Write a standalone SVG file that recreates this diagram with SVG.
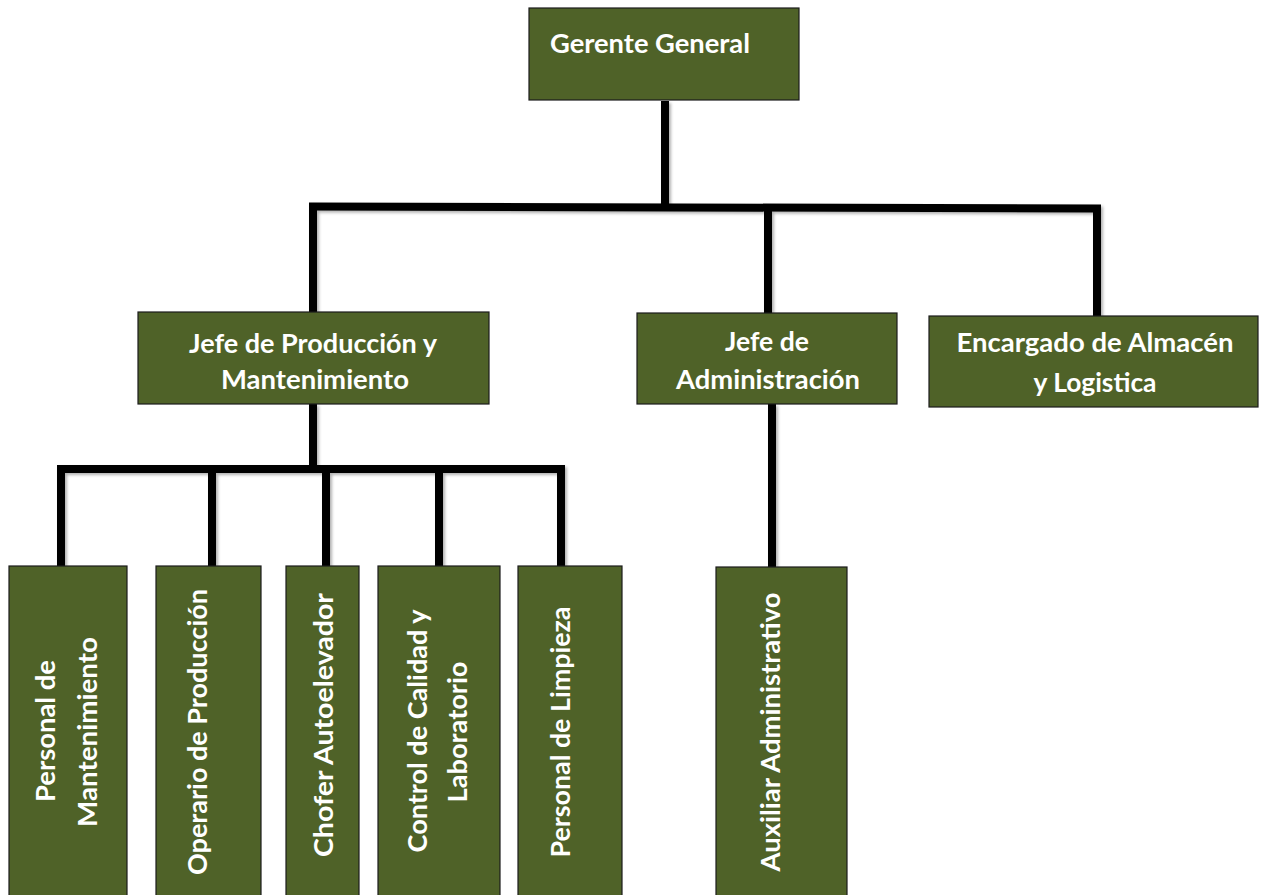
<svg xmlns="http://www.w3.org/2000/svg" width="1262" height="895" viewBox="0 0 1262 895">
  <defs>
    <filter id="shadow" x="-20%" y="-20%" width="140%" height="140%">
      <feDropShadow dx="2" dy="2" stdDeviation="1.5" flood-color="#000" flood-opacity="0.3"/>
    </filter>
  </defs>
  <style>
    .box { fill: #4f6228; stroke: #1c1c1c; stroke-width: 1.2; }
    .lbl { fill: #ffffff; font-family: "Lato", "Liberation Sans", sans-serif; font-weight: bold; font-size: 26px; }
    .mid { text-anchor: middle; }
    .conn { stroke: #000; stroke-width: 8; fill: none; stroke-linecap: butt; }
  </style>
  <rect width="1262" height="895" fill="#ffffff"/>

  <g id="connectors" filter="url(#shadow)">
    <line class="conn" x1="665" y1="101" x2="665" y2="207"/>
    <line class="conn" x1="309" y1="206.5" x2="1101" y2="208.5"/>
    <line class="conn" x1="313" y1="206" x2="313" y2="312"/>
    <line class="conn" x1="768" y1="208" x2="768" y2="313"/>
    <line class="conn" x1="1097" y1="208" x2="1097" y2="316"/>
    <line class="conn" x1="313" y1="404" x2="313" y2="469"/>
    <line class="conn" x1="57" y1="469" x2="565" y2="469"/>
    <line class="conn" x1="61" y1="466" x2="61" y2="566"/>
    <line class="conn" x1="212" y1="469" x2="212" y2="566"/>
    <line class="conn" x1="326" y1="469" x2="326" y2="566"/>
    <line class="conn" x1="439" y1="469" x2="439" y2="566"/>
    <line class="conn" x1="561" y1="466" x2="561" y2="566"/>
    <line class="conn" x1="772" y1="404" x2="772" y2="567"/>
  </g>

  <g id="gerente-general">
    <rect class="box" x="529" y="8" width="270" height="92"/>
    <text class="lbl" x="550" y="53" textLength="200" lengthAdjust="spacingAndGlyphs">Gerente General</text>
  </g>

  <g id="jefe-produccion">
    <rect class="box" x="138" y="312" width="351" height="92"/>
    <text class="lbl mid" x="313" y="353" textLength="248" lengthAdjust="spacingAndGlyphs">Jefe de Producción y</text>
    <text class="lbl mid" x="315" y="389" textLength="188" lengthAdjust="spacingAndGlyphs">Mantenimiento</text>
  </g>

  <g id="jefe-administracion">
    <rect class="box" x="637" y="313" width="260" height="91"/>
    <text class="lbl mid" x="767" y="351" textLength="84" lengthAdjust="spacingAndGlyphs">Jefe de</text>
    <text class="lbl mid" x="768" y="389" textLength="184" lengthAdjust="spacingAndGlyphs">Administración</text>
  </g>

  <g id="encargado-almacen">
    <rect class="box" x="929" y="316" width="329" height="91"/>
    <text class="lbl mid" x="1095" y="352" textLength="277" lengthAdjust="spacingAndGlyphs">Encargado de Almacén</text>
    <text class="lbl mid" x="1095" y="392" textLength="123" lengthAdjust="spacingAndGlyphs">y Logistica</text>
  </g>

  <g id="personal-mantenimiento">
    <rect class="box" x="9" y="566" width="118" height="340"/>
    <text class="lbl mid" transform="translate(55,731) rotate(-90)" textLength="142" lengthAdjust="spacingAndGlyphs">Personal de</text>
    <text class="lbl mid" transform="translate(97,732) rotate(-90)" textLength="190" lengthAdjust="spacingAndGlyphs">Mantenimiento</text>
  </g>

  <g id="operario-produccion">
    <rect class="box" x="156" y="566" width="105" height="340"/>
    <text class="lbl mid" transform="translate(207,732) rotate(-90)" textLength="286" lengthAdjust="spacingAndGlyphs">Operario de Producción</text>
  </g>

  <g id="chofer-autoelevador">
    <rect class="box" x="286" y="566" width="73" height="340"/>
    <text class="lbl mid" transform="translate(333,725) rotate(-90)" textLength="264" lengthAdjust="spacingAndGlyphs">Chofer Autoelevador</text>
  </g>

  <g id="control-calidad">
    <rect class="box" x="378" y="566" width="122" height="340"/>
    <text class="lbl mid" transform="translate(427,731) rotate(-90)" textLength="243" lengthAdjust="spacingAndGlyphs">Control de Calidad y</text>
    <text class="lbl mid" transform="translate(467,732) rotate(-90)" textLength="141" lengthAdjust="spacingAndGlyphs">Laboratorio</text>
  </g>

  <g id="personal-limpieza">
    <rect class="box" x="518" y="566" width="104" height="340"/>
    <text class="lbl mid" transform="translate(570,732) rotate(-90)" textLength="251" lengthAdjust="spacingAndGlyphs">Personal de Limpieza</text>
  </g>

  <g id="auxiliar-administrativo">
    <rect class="box" x="716" y="567" width="131" height="340"/>
    <text class="lbl mid" transform="translate(780,732) rotate(-90)" textLength="279" lengthAdjust="spacingAndGlyphs">Auxiliar Administrativo</text>
  </g>
</svg>
